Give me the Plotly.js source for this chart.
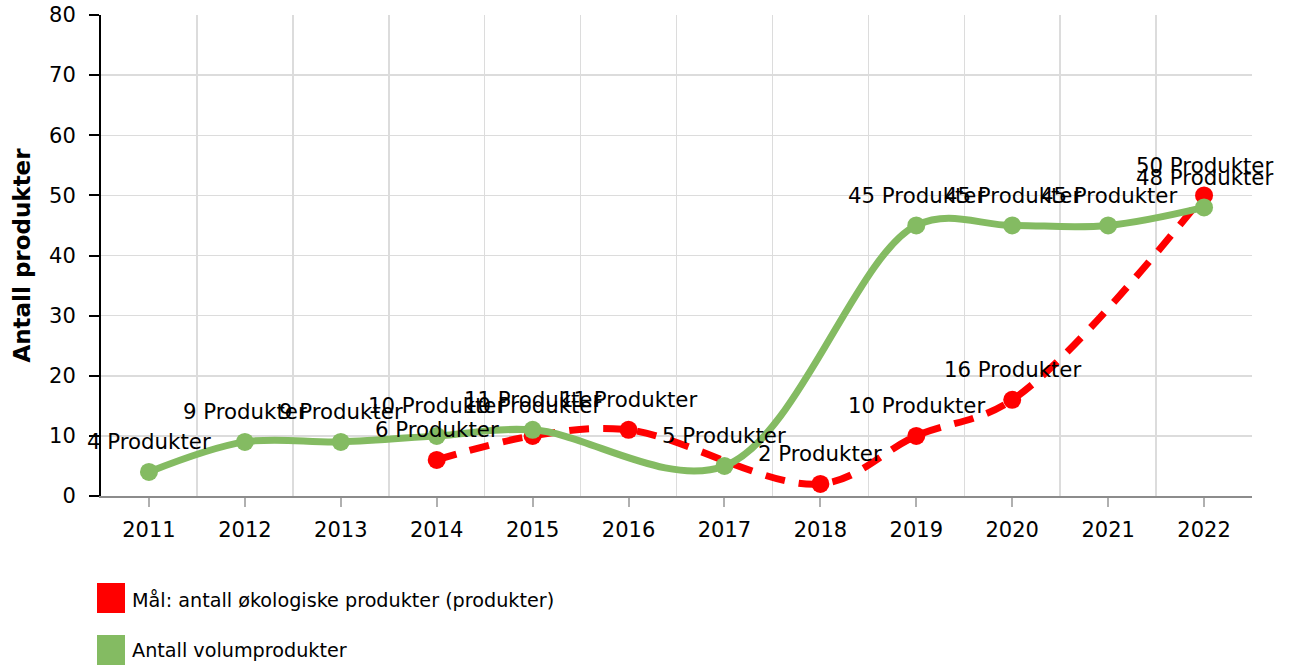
<!DOCTYPE html>
<html>
<head>
<meta charset="utf-8">
<script src="https://cdn.plot.ly/plotly-3.0.1.min.js"></script>
<style>
html,body{margin:0;padding:0;background:#fff;}
#chart{width:1290px;height:665px;}
</style>
</head>
<body>
<div id="chart"></div>
<script>
// ---- Data ----
const years = [2011, 2012, 2013, 2014, 2015, 2016, 2017, 2018, 2019, 2020, 2021, 2022];
const maalValues = [null, null, null, 6, 10, 11, null, 2, 10, 16, null, 50];
const volumValues = [4, 9, 9, 10, 11, null, 5, null, 45, 45, 45, 48];
const seriesNames = ['Mål: antall økologiske produkter (produkter)', 'Antall volumprodukter'];
const unitLabel = 'Produkter';
const yTickValues = [0, 10, 20, 30, 40, 50, 60, 70, 80];
const yAxisTitle = 'Antall produkter';

// ---- Style ----
const RED = '#ff0000';
const GREEN = '#84bb62';
const FONT = 'DejaVu Sans, Verdana, sans-serif';
const M = {l: 101, r: 38, t: 15, b: 169};
const W = 1290, H = 665;
const plotW = W - M.l - M.r, plotH = H - M.t - M.b;
const px2x = p => (p - M.l) / plotW;
const px2y = p => (H - M.b - p) / plotH;

const traces = [
  {
    x: years, y: maalValues, name: seriesNames[0], type: 'scatter', mode: 'lines+markers',
    connectgaps: true, showlegend: false, hoverinfo: 'x+y',
    line: {color: RED, width: 7, dash: '20px,14px', shape: 'spline', smoothing: 1},
    marker: {color: RED, size: 18}
  },
  {
    x: years, y: volumValues, name: seriesNames[1], type: 'scatter', mode: 'lines+markers',
    connectgaps: true, showlegend: false, hoverinfo: 'x+y',
    line: {color: GREEN, width: 7, shape: 'spline', smoothing: 1},
    marker: {color: GREEN, size: 18}
  }
];

const annotations = [];
[maalValues, volumValues].forEach(vals => {
  vals.forEach((v, i) => {
    if (v === null) return;
    annotations.push({
      x: years[i], y: v, xref: 'x', yref: 'y', text: v + ' ' + unitLabel,
      showarrow: false, xanchor: 'center', yanchor: 'middle', yshift: 30,
      font: {family: FONT, size: 21.3, color: '#000'}
    });
  });
});

// legend (custom swatches)
const legendRows = [{color: RED, top: 583, bottom: 613, textY: 600}, {color: GREEN, top: 635, bottom: 665, textY: 650}];
const shapes = [];
legendRows.forEach((r, i) => {
  shapes.push({type: 'rect', xref: 'paper', yref: 'paper', x0: px2x(97), x1: px2x(125),
    y0: px2y(r.bottom), y1: px2y(r.top), fillcolor: r.color, line: {width: 0}});
  annotations.push({xref: 'paper', yref: 'paper', x: px2x(130), y: px2y(r.textY),
    xanchor: 'left', yanchor: 'middle', showarrow: false, text: seriesNames[i],
    font: {family: FONT, size: 19.2, color: '#000'}});
});

const layout = {
  width: W, height: H,
  margin: M,
  paper_bgcolor: '#fff', plot_bgcolor: '#fff',
  font: {family: FONT, color: '#000'},
  showlegend: false,
  xaxis: {
    range: [2010.5, 2022.5], tickmode: 'array', tickvals: years, ticktext: years.map(String),
    showgrid: false, zeroline: false,
    showline: true, linecolor: '#8c8c8c', linewidth: 2,
    ticks: 'outside', ticklen: 9, tickwidth: 2, tickcolor: '#b0b0b0',
    tickfont: {family: FONT, size: 21, color: '#000'}, ticklabelstandoff: 5,
    minor: {tick0: 2010.5, dtick: 1, showgrid: true, gridcolor: '#dcdcdc', gridwidth: 1.5, ticks: ''},
    fixedrange: true
  },
  yaxis: {
    range: [0, 80], tickmode: 'array', tickvals: yTickValues,
    showgrid: true, gridcolor: '#dcdcdc', gridwidth: 1.5, zeroline: false,
    showline: true, linecolor: '#000', linewidth: 2,
    ticks: 'outside', ticklen: 10, tickwidth: 2, tickcolor: '#000',
    tickfont: {family: FONT, size: 21, color: '#000'}, ticklabelstandoff: 9,
    title: {text: yAxisTitle, font: {family: FONT, size: 23, weight: 'bold', color: '#000'}, standoff: 12},
    fixedrange: true
  },
  shapes: shapes,
  annotations: annotations
};

Plotly.newPlot('chart', traces, layout, {displayModeBar: false, staticPlot: true});
</script>
</body>
</html>
